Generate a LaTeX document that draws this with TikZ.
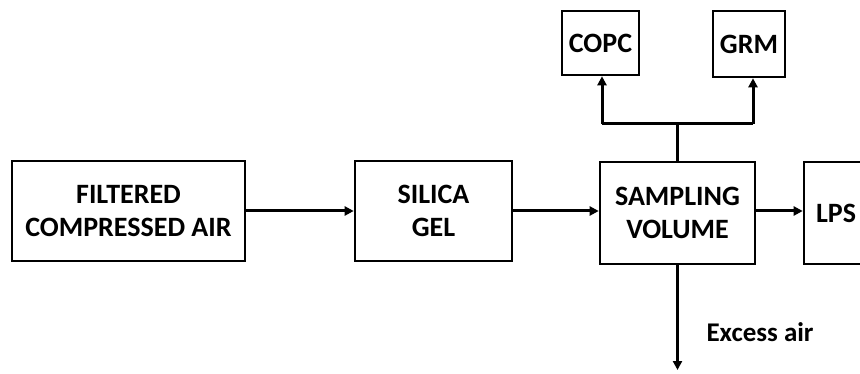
\documentclass[tikz,border=0pt]{standalone}
\usepackage{fontspec}
\setmainfont{Carlito}
\usetikzlibrary{arrows.meta}
\begin{document}
\begin{tikzpicture}[x=1pt,y=-1pt,
  blk/.style={draw,line width=2.6pt,inner sep=0pt,align=center,
    font=\bfseries\fontsize{28}{33}\selectfont},
  flow/.style={line width=3pt,-{Triangle[length=9pt,width=9pt]}},
  link/.style={line width=3pt}]
\clip (0,0) rectangle (860,374);
\useasboundingbox (0,0) rectangle (860,374);
\node[blk,minimum width=233pt,minimum height=100pt] (filt) at (128.5,211) {FILTERED\\COMPRESSED AIR};
\node[blk,minimum width=157pt,minimum height=100pt] (sil) at (433.5,211) {SILICA\\GEL};
\node[blk,minimum width=155pt,minimum height=102pt] (samp) at (677.5,213) {SAMPLING\\VOLUME};
\node[blk,minimum width=64pt,minimum height=102pt] (lps) at (836,213) {LPS};
\node[blk,minimum width=77pt,minimum height=64pt] (copc) at (600.5,43) {COPC};
\node[blk,minimum width=72pt,minimum height=66pt] (grm) at (749,44) {GRM};
\coordinate (j) at (677.5,124);
\coordinate (ca) at (602,124);
\coordinate (ga) at (753,124);
\coordinate (ex) at (677.5,370);
\draw[flow] (filt.east) -- (sil.west);
\draw[flow] (sil.east) -- (sil.east -| samp.west);
\draw[flow] (samp.east |- 0,211) -- (lps.west |- 0,211);
\draw[link] (samp.north) -- (j);
\draw[link] (ca) -- (ga);
\draw[flow] (ca) -- (ca |- copc.south);
\draw[flow] (ga) -- (ga |- grm.south);
\draw[flow] (samp.south) -- (ex);
\node[anchor=west,font=\bfseries\fontsize{27}{30}\selectfont] (lbl) at (703,332) {Excess air};
\end{tikzpicture}
\end{document}
